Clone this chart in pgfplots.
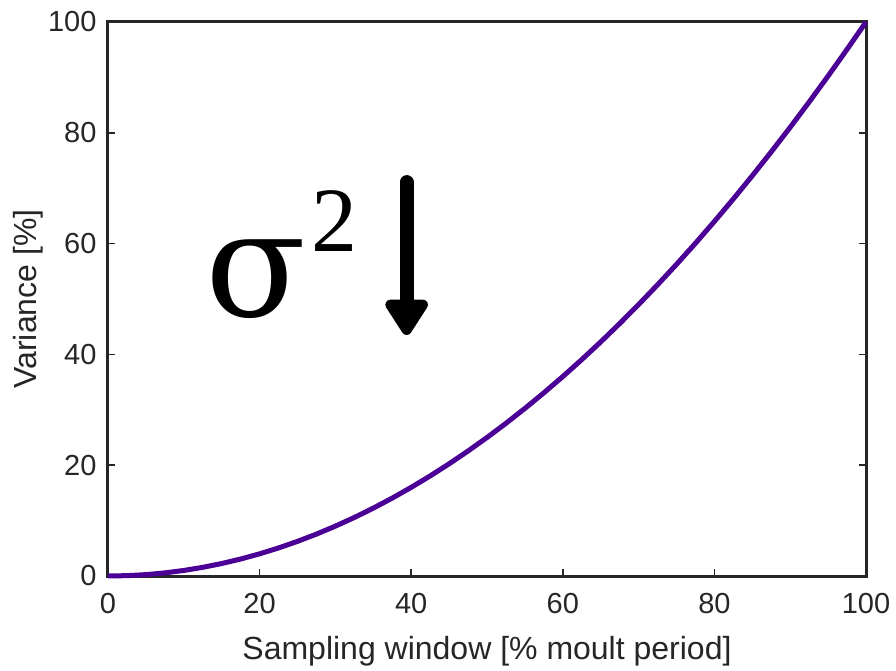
\documentclass[border=0pt]{standalone}
\usepackage{fontspec}
\setmainfont{Liberation Sans}
\newfontfamily\serifgreek{DejaVu Serif}
\newfontfamily\serifdigit{Liberation Serif}
\usepackage{pgfplots}
\pgfplotsset{compat=1.18}
\usetikzlibrary{arrows.meta}
\definecolor{axcol}{RGB}{38,38,38}
\definecolor{curve}{RGB}{75,0,150}

\begin{document}
\begin{tikzpicture}
\begin{axis}[
  scale only axis, width=758bp, height=554bp,
  xmin=0, xmax=100, ymin=0, ymax=100,
  xtick={0,20,...,100}, ytick={0,20,...,100},
  xtick pos=bottom, ytick pos=both,
  tick align=inside, major tick length=7bp,
  tick style={line width=1.5bp, color=axcol},
  axis line style={line width=3bp, color=axcol},
  /pgf/number format/assume math mode=true,
  tick label style={font=\fontsize{29bp}{32bp}\selectfont, color=axcol},
  xticklabel style={yshift=-14bp},
  yticklabel style={xshift=-8bp},
  label style={font=\fontsize{32bp}{36bp}\selectfont, color=axcol},
  xlabel={Sampling window [\% moult period]},
  ylabel={Variance [\%]},
  xlabel style={at={(axis description cs:0.5,0)}, anchor=center, yshift=-75bp},
  ylabel style={at={([xshift=-80bp]axis description cs:0,0.5)}, anchor=center},
  clip=false,
]
\addplot[curve, line width=5bp] coordinates {
 (0,0) (2.5,0.0625) (5,0.25) (7.5,0.5625) (10,1) (12.5,1.5625) (15,2.25)
 (17.5,3.0625) (20,4) (22.5,5.0625) (25,6.25) (27.5,7.5625) (30,9)
 (32.5,10.5625) (35,12.25) (37.5,14.0625) (40,16) (42.5,18.0625) (45,20.25)
 (47.5,22.5625) (50,25) (52.5,27.5625) (55,30.25) (57.5,33.0625) (60,36)
 (62.5,39.0625) (65,42.25) (67.5,45.5625) (70,49) (72.5,52.5625) (75,56.25)
 (77.5,60.0625) (80,64) (82.5,68.0625) (85,72.25) (87.5,76.5625) (90,81)
 (92.5,85.5625) (95,90.25) (97.5,95.0625) (100,100)
};
% sigma^2 annotation with downward arrow
\node[anchor=base west, inner sep=0pt, font=\serifgreek\fontsize{148bp}{148bp}\selectfont]
  at (axis cs:12.9,46.9) {σ};
\node[anchor=base west, inner sep=0pt, font=\serifdigit\fontsize{92bp}{92bp}\selectfont]
  at (axis cs:26.8,58.5) {2};
\draw[black, line width=14bp, line cap=round,
  -{Triangle[length=40bp, width=48bp, round]}]
  (axis cs:39.4,71.1) -- (axis cs:39.4,43.5);
\end{axis}
\pgfresetboundingbox
\path[use as bounding box] (-108bp,-95bp) rectangle (788bp,576bp);
\end{tikzpicture}
\end{document}
